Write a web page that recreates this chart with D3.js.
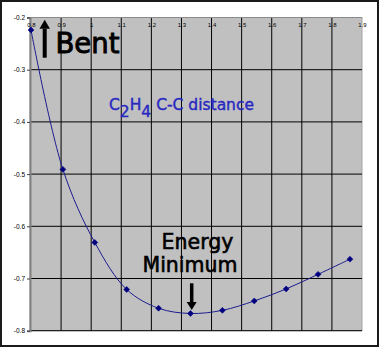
<!DOCTYPE html>
<html>
<head>
<meta charset="utf-8">
<script src="https://cdn.jsdelivr.net/npm/d3@7"></script>
<style>
  html, body { margin: 0; padding: 0; background: #fff; }
  svg { display: block; }
</style>
</head>
<body>
<script>
// C2H4 energy curve versus C-C bond distance
const distance = [0.80, 0.906, 1.012, 1.118, 1.224, 1.330, 1.436, 1.542, 1.648, 1.754, 1.860];
const energy = [-0.224, -0.491, -0.631, -0.721, -0.757, -0.767, -0.761, -0.743, -0.720, -0.692, -0.663];
const xTicks = [0.8, 0.9, 1.0, 1.1, 1.2, 1.3, 1.4, 1.5, 1.6, 1.7, 1.8, 1.9];
const xTickLabels = ["0.8", "0.9", "1", "1.1", "1.2", "1.3", "1.4", "1.5", "1.6", "1.7", "1.8", "1.9"];
const yTicks = [-0.2, -0.3, -0.4, -0.5, -0.6, -0.7, -0.8];
const yTickLabels = ["-0.2", "-0.3", "-0.4", "-0.5", "-0.6", "-0.7", "-0.8"];

const W = 380, H = 348;
const svg = d3.select("body").append("svg").attr("width", W).attr("height", H);

// outer frame
svg.append("rect").attr("x", 1).attr("y", 1).attr("width", 377).attr("height", 345)
  .attr("fill", "#fff").attr("stroke", "#1a1a1a").attr("stroke-width", 2);

const x = d3.scaleLinear().domain([0.8, 1.9]).range([31, 362]);
const y = d3.scaleLinear().domain([-0.8, -0.2]).range([330.7, 17.5]);

// plot area
svg.append("rect")
  .attr("x", x(0.8) - 1).attr("y", y(-0.2))
  .attr("width", x(1.9) - x(0.8) + 1).attr("height", y(-0.8) - y(-0.2))
  .attr("fill", "#c0c0c0").attr("stroke", "#a4a4a4").attr("stroke-width", 1);

// gridlines
const grid = svg.append("g");
grid.selectAll("line.v").data(xTicks.slice(1, -1)).join("line")
  .attr("x1", d => x(d)).attr("x2", d => x(d))
  .attr("y1", y(-0.2)).attr("y2", y(-0.8))
  .attr("stroke", "#000").attr("stroke-width", 1);
grid.selectAll("line.h").data(yTicks.slice(1)).join("line")
  .attr("x1", x(0.8)).attr("x2", x(1.9))
  .attr("y1", d => y(d)).attr("y2", d => y(d))
  .attr("stroke", "#000").attr("stroke-width", 1);

// top border of plot
svg.append("line").attr("x1", x(0.8)).attr("x2", x(1.9))
  .attr("y1", y(-0.2)).attr("y2", y(-0.2))
  .attr("stroke", "#8a8a8a").attr("stroke-width", 1);

// value axis (left)
const yAxis = d3.axisLeft(y).tickValues(yTicks)
  .tickFormat((d, i) => yTickLabels[i]).tickSize(3).tickPadding(2);
const gy = svg.append("g").attr("transform", `translate(${x(0.8) - 1},0)`).call(yAxis);
gy.select(".domain").attr("stroke", "#808080").attr("stroke-width", 2);
gy.selectAll(".tick line").attr("stroke", "#404040");
gy.selectAll("text").attr("font-family", "Liberation Sans, Arial, sans-serif")
  .attr("font-size", 6.5).attr("fill", "#000");

// distance labels along the top, inside the plot
const xAxis = d3.axisBottom(x).tickValues(xTicks)
  .tickFormat((d, i) => xTickLabels[i]).tickSize(0).tickPadding(5);
const gx = svg.append("g").attr("transform", `translate(0,${y(-0.2)})`).call(xAxis);
gx.select(".domain").remove();
gx.selectAll("text").attr("font-family", "Liberation Sans, Arial, sans-serif")
  .attr("font-size", 6).attr("fill", "#000");

// smoothed energy curve
const pts = distance.map((d, i) => [d, energy[i]]);
const line = d3.line().x(d => x(d[0])).y(d => y(d[1])).curve(d3.curveCatmullRom.alpha(0.5));
svg.append("path").datum(pts).attr("d", line)
  .attr("fill", "none").attr("stroke", "#1c1c90").attr("stroke-width", 1);

// diamond markers
const diamond = d3.symbol().type(d3.symbolDiamond2).size(22);
svg.selectAll("path.pt").data(pts).join("path")
  .attr("transform", d => `translate(${x(d[0])},${y(d[1])})`)
  .attr("d", diamond).attr("fill", "#000080").attr("stroke", "#000080").attr("stroke-width", 0.6);

// arrow helper
function arrow(cx, yTail, yTip, headLen, headW, stemW) {
  const dir = yTip < yTail ? -1 : 1;
  const yBase = yTip - dir * headLen;
  svg.append("rect")
    .attr("x", cx - stemW / 2).attr("width", stemW)
    .attr("y", Math.min(yTail, yBase)).attr("height", Math.abs(yTail - yBase))
    .attr("fill", "#000");
  svg.append("path")
    .attr("d", `M${cx - headW / 2},${yBase} L${cx + headW / 2},${yBase} L${cx},${yTip} Z`)
    .attr("fill", "#000");
}

const labelFont = "DejaVu Sans, Verdana, sans-serif";

// "Bent" annotation
arrow(44.7, 57.7, 19.7, 9, 10.5, 4);
svg.append("text").attr("x", 55.5).attr("y", 52.6)
  .attr("font-family", labelFont).attr("font-size", 27.5)
  .attr("fill", "#000").attr("stroke", "#000").attr("stroke-width", 0.9)
  .text("Bent");

// molecule / title label
const t = svg.append("text").attr("x", 109).attr("y", 110)
  .attr("font-family", labelFont).attr("font-size", 15.5)
  .attr("fill", "#2828c0").attr("stroke", "#2828c0").attr("stroke-width", 0.4);
t.append("tspan").text("C");
t.append("tspan").attr("dy", 7).text("2");
t.append("tspan").attr("dy", -7).text("H");
t.append("tspan").attr("dy", 7).text("4");
t.append("tspan").attr("dy", -7).text(" C-C distance");

// "Energy Minimum" annotation
const em = svg.append("text").attr("text-anchor", "middle")
  .attr("font-family", labelFont).attr("font-size", 20.5)
  .attr("fill", "#000").attr("stroke", "#000").attr("stroke-width", 0.6);
em.append("tspan").attr("x", 197.5).attr("y", 249).text("Energy");
em.append("tspan").attr("x", 190).attr("y", 272).text("Minimum");
arrow(191.7, 283.3, 310, 8, 10, 3.5);
</script>
</body>
</html>
